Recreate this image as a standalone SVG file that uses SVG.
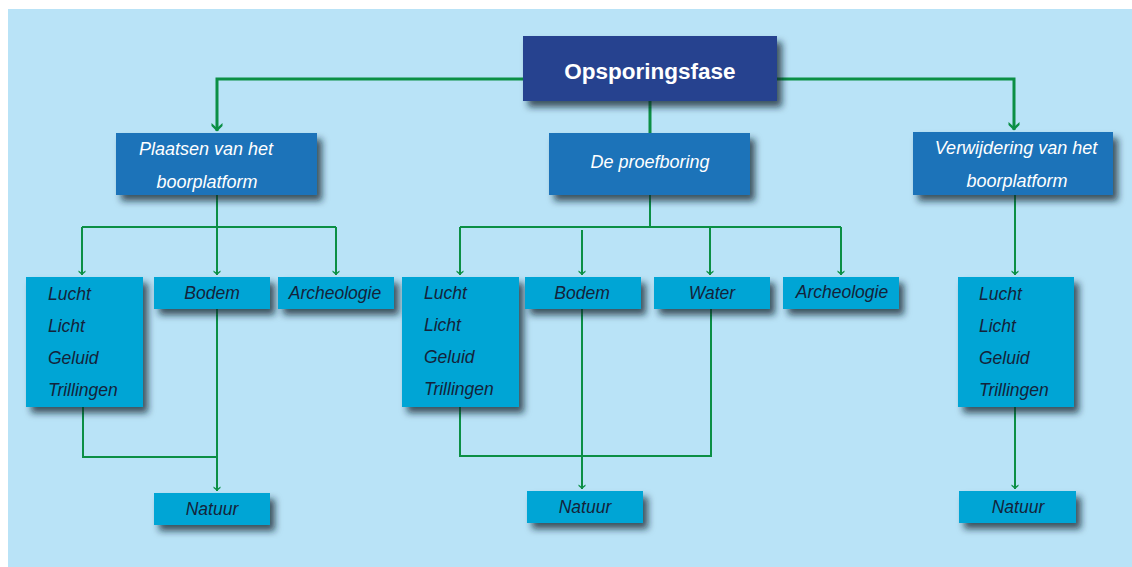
<svg xmlns="http://www.w3.org/2000/svg" width="1132" height="567" viewBox="0 0 1132 567">
<defs>
<filter id="sh" x="-20%" y="-20%" width="150%" height="180%">
<feDropShadow dx="5" dy="6" stdDeviation="3.5" flood-color="#14202e" flood-opacity="0.75"/>
</filter>
<marker id="big" markerWidth="12" markerHeight="10" refX="6" refY="9" orient="0" markerUnits="userSpaceOnUse">
<path d="M0.5,1 L6,6 L11.5,1 L11.5,4 L6,9.5 L0.5,4 Z" fill="#0b8f45"/>
</marker>
<marker id="sm" markerWidth="8" markerHeight="6" refX="4" refY="5.5" orient="0" markerUnits="userSpaceOnUse">
<path d="M0.5,1 L4,3.5 L7.5,1 L7.5,2.5 L4,5.5 L0.5,2.5 Z" fill="#0b8f45"/>
</marker>
</defs>
<style>
.lv0{fill:#25438f}
.lv1{fill:#1c73b9}
.lv2{fill:#00a5d5}
.t0{font-family:"Liberation Sans",Arial,sans-serif;font-weight:bold;font-size:22.5px;fill:#ffffff;text-anchor:middle}
.t1{font-family:"Liberation Sans",Arial,sans-serif;font-style:italic;font-size:18px;fill:#ffffff;text-anchor:middle}
.t2{font-family:"Liberation Sans",Arial,sans-serif;font-style:italic;font-size:17.5px;fill:#14233a}
.c{text-anchor:middle}
.thick{stroke:#0b8f45;stroke-width:3;fill:none}
.thin{stroke:#0b8f45;stroke-width:2;fill:none}
</style>
<rect x="0" y="0" width="1132" height="567" fill="#ffffff"/>
<rect x="8" y="9" width="1124" height="558" fill="#b9e3f7"/>

<g id="connectors">
<path class="thick" d="M523,79 H217 V131" marker-end="url(#big)"/>
<path class="thick" d="M777,79 H1014 V130" marker-end="url(#big)"/>
<path class="thick" d="M650,101 V133"/>
<path class="thin" d="M217,195 V227"/>
<path class="thin" d="M82,227 H336"/>
<path class="thin" d="M82,227 V275" marker-end="url(#sm)"/>
<path class="thin" d="M217,227 V275" marker-end="url(#sm)"/>
<path class="thin" d="M336,227 V275" marker-end="url(#sm)"/>
<path class="thin" d="M83,407 V457 H217"/>
<path class="thin" d="M217,309 V491" marker-end="url(#sm)"/>
<path class="thin" d="M650,195 V227"/>
<path class="thin" d="M460,227 H841"/>
<path class="thin" d="M460,227 V275" marker-end="url(#sm)"/>
<path class="thin" d="M582,230 V275" marker-end="url(#sm)"/>
<path class="thin" d="M710,227 V275" marker-end="url(#sm)"/>
<path class="thin" d="M841,227 V275" marker-end="url(#sm)"/>
<path class="thin" d="M460,407 V456 H711 V309"/>
<path class="thin" d="M582,309 V489" marker-end="url(#sm)"/>
<path class="thin" d="M1015,195 V275" marker-end="url(#sm)"/>
<path class="thin" d="M1015,407 V489" marker-end="url(#sm)"/>
</g>

<g id="n-opsporingsfase">
<rect class="lv0" x="523" y="36" width="254" height="65" filter="url(#sh)"/>
<text class="t0" x="650" y="79">Opsporingsfase</text>
</g>
<g id="n-plaatsen">
<rect class="lv1" x="116" y="133" width="201" height="62" filter="url(#sh)"/>
<text class="t1" x="206" y="155">Plaatsen van het</text>
<text class="t1" x="207" y="188">boorplatform</text>
</g>
<g id="n-proefboring">
<rect class="lv1" x="549" y="133" width="201" height="62" filter="url(#sh)"/>
<text class="t1" x="650" y="168">De proefboring</text>
</g>
<g id="n-verwijdering">
<rect class="lv1" x="913" y="132" width="200" height="63" filter="url(#sh)"/>
<text class="t1" x="1016" y="154">Verwijdering van het</text>
<text class="t1" x="1017" y="187">boorplatform</text>
</g>

<g id="n-l-lucht">
<rect class="lv2" x="26" y="277" width="117" height="130" filter="url(#sh)"/>
<text class="t2" x="48" y="300">Lucht</text>
<text class="t2" x="48" y="332">Licht</text>
<text class="t2" x="48" y="364">Geluid</text>
<text class="t2" x="48" y="396">Trillingen</text>
</g>
<g id="n-l-bodem">
<rect class="lv2" x="154" y="277" width="116" height="32" filter="url(#sh)"/>
<text class="t2 c" x="212" y="299">Bodem</text>
</g>
<g id="n-l-archeologie">
<rect class="lv2" x="278" y="277" width="116" height="32" filter="url(#sh)"/>
<text class="t2 c" x="335" y="299">Archeologie</text>
</g>
<g id="n-l-natuur">
<rect class="lv2" x="154" y="493" width="116" height="32" filter="url(#sh)"/>
<text class="t2 c" x="212" y="515">Natuur</text>
</g>

<g id="n-m-lucht">
<rect class="lv2" x="402" y="277" width="117" height="130" filter="url(#sh)"/>
<text class="t2" x="424" y="299">Lucht</text>
<text class="t2" x="424" y="331">Licht</text>
<text class="t2" x="424" y="363">Geluid</text>
<text class="t2" x="424" y="395">Trillingen</text>
</g>
<g id="n-m-bodem">
<rect class="lv2" x="525" y="277" width="116" height="32" filter="url(#sh)"/>
<text class="t2 c" x="582" y="299">Bodem</text>
</g>
<g id="n-m-water">
<rect class="lv2" x="654" y="277" width="116" height="32" filter="url(#sh)"/>
<text class="t2 c" x="712" y="299">Water</text>
</g>
<g id="n-m-archeologie">
<rect class="lv2" x="783" y="277" width="116" height="32" filter="url(#sh)"/>
<text class="t2 c" x="842" y="298">Archeologie</text>
</g>
<g id="n-m-natuur">
<rect class="lv2" x="527" y="491" width="116" height="32" filter="url(#sh)"/>
<text class="t2 c" x="585" y="513">Natuur</text>
</g>

<g id="n-r-lucht">
<rect class="lv2" x="958" y="277" width="116" height="130" filter="url(#sh)"/>
<text class="t2" x="979" y="300">Lucht</text>
<text class="t2" x="979" y="332">Licht</text>
<text class="t2" x="979" y="364">Geluid</text>
<text class="t2" x="979" y="396">Trillingen</text>
</g>
<g id="n-r-natuur">
<rect class="lv2" x="959" y="491" width="117" height="32" filter="url(#sh)"/>
<text class="t2 c" x="1018" y="513">Natuur</text>
</g>
</svg>
